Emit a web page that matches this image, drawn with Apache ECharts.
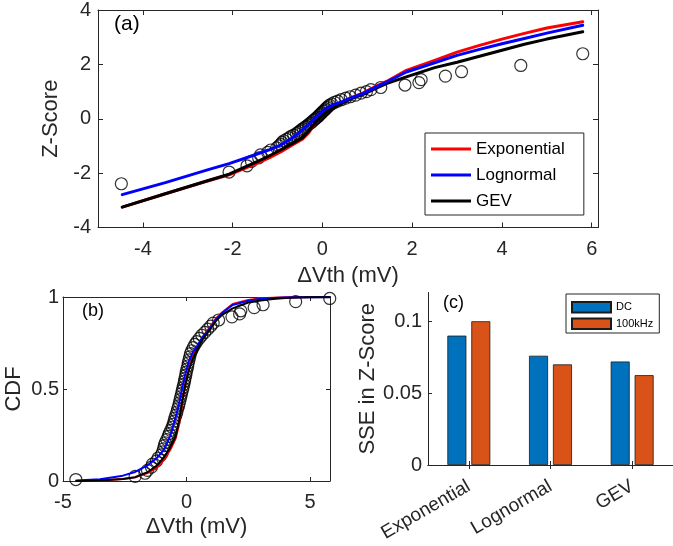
<!DOCTYPE html>
<html><head><meta charset="utf-8">
<script src="https://cdn.jsdelivr.net/npm/echarts@6/dist/echarts.min.js"></script>
<style>html,body{margin:0;padding:0;background:#fff}#c{width:673px;height:546px}</style>
</head><body><div id="c"></div>
<script>
// ---- data ----
const deltaVth = [-4.48, -2.08, -1.68, -1.58, -1.42, -1.38, -1.22, -1.15, -1.02, -0.97,
  -0.93, -0.90, -0.86, -0.80, -0.74, -0.70, -0.64, -0.58, -0.54, -0.50,
  -0.47, -0.43, -0.39, -0.36, -0.32, -0.29, -0.26, -0.23, -0.20, -0.17,
  -0.14, -0.11, -0.08, -0.06, -0.03, -0.01, 0.02, 0.05, 0.07, 0.10,
  0.13, 0.16, 0.21, 0.27, 0.34, 0.42, 0.52, 0.62, 0.74, 0.86,
  0.98, 1.08, 1.30, 1.84, 2.15, 2.20, 2.74, 3.10, 4.42, 5.80];
const zScore = [-2.39, -1.96, -1.73, -1.57, -1.44, -1.33, -1.24, -1.15, -1.07, -1.00,
  -0.94, -0.87, -0.81, -0.76, -0.70, -0.65, -0.60, -0.55, -0.50, -0.45,
  -0.41, -0.36, -0.32, -0.28, -0.23, -0.19, -0.15, -0.11, -0.06, -0.02,
  0.02, 0.06, 0.11, 0.15, 0.19, 0.23, 0.28, 0.32, 0.36, 0.41,
  0.45, 0.50, 0.55, 0.60, 0.65, 0.70, 0.76, 0.81, 0.87, 0.94,
  1.00, 1.07, 1.15, 1.24, 1.33, 1.44, 1.57, 1.73, 1.96, 2.39];
const cdfEmp = [0.008, 0.025, 0.042, 0.058, 0.075, 0.092, 0.108, 0.125, 0.142, 0.158,
  0.175, 0.192, 0.208, 0.225, 0.242, 0.258, 0.275, 0.292, 0.308, 0.325,
  0.342, 0.358, 0.375, 0.392, 0.408, 0.425, 0.442, 0.458, 0.475, 0.492,
  0.508, 0.525, 0.542, 0.558, 0.575, 0.592, 0.608, 0.625, 0.642, 0.658,
  0.675, 0.692, 0.708, 0.725, 0.742, 0.758, 0.775, 0.792, 0.808, 0.825,
  0.842, 0.858, 0.875, 0.892, 0.908, 0.925, 0.942, 0.958, 0.975, 0.992];
const fitX = [-4.46, -3.5, -2.58, -2.08, -1.58, -1.2, -0.91, -0.65, -0.44, -0.3,
  -0.17, -0.05, 0.10, 0.25, 0.44, 0.65, 0.91, 1.2, 1.44, 1.87,
  2.5, 3.0, 3.5, 4.0, 4.5, 5.0, 5.8];
const zExp  = [-3.25, -2.76, -2.30, -2.06, -1.72, -1.45, -1.20, -0.95, -0.74, -0.50,
  -0.18, 0.06, 0.28, 0.45, 0.60, 0.78, 0.95, 1.20, 1.38, 1.78,
  2.15, 2.45, 2.70, 2.93, 3.14, 3.34, 3.57];
const zLogn = [-2.79, -2.35, -1.89, -1.65, -1.37, -1.15, -0.95, -0.68, -0.40, -0.20,
  0.02, 0.20, 0.39, 0.52, 0.63, 0.78, 0.93, 1.17, 1.36, 1.72,
  2.06, 2.33, 2.55, 2.76, 2.95, 3.15, 3.44];
const zGev  = [-3.25, -2.76, -2.29, -2.04, -1.67, -1.38, -1.13, -0.90, -0.70, -0.45,
  -0.16, 0.05, 0.27, 0.42, 0.57, 0.74, 0.90, 1.13, 1.30, 1.54,
  1.88, 2.08, 2.30, 2.52, 2.74, 2.93, 3.20];
const cdfExp  = [0.0006, 0.0029, 0.0107, 0.0197, 0.0427, 0.0735, 0.115, 0.171, 0.230, 0.309,
  0.429, 0.524, 0.610, 0.674, 0.726, 0.782, 0.829, 0.885, 0.916, 0.962,
  0.984, 0.993, 0.9965, 0.998, 0.9992, 0.9996, 0.9998];
const cdfLogn = [0.0026, 0.0094, 0.029, 0.049, 0.085, 0.125, 0.171, 0.248, 0.345, 0.421,
  0.508, 0.579, 0.652, 0.698, 0.736, 0.782, 0.824, 0.879, 0.913, 0.957,
  0.980, 0.990, 0.9946, 0.9971, 0.9984, 0.9992, 0.9997];
const cdfGev  = [0.0006, 0.0029, 0.011, 0.0207, 0.0475, 0.0838, 0.129, 0.184, 0.242, 0.326,
  0.436, 0.520, 0.606, 0.663, 0.716, 0.770, 0.816, 0.871, 0.903, 0.938,
  0.970, 0.981, 0.989, 0.994, 0.997, 0.998, 0.9993];
const sseCategories = ['Exponential', 'Lognormal', 'GEV'];
const sseDC   = [0.090, 0.076, 0.072];
const sse100k = [0.100, 0.070, 0.0625];
const ticksAx = [-4, -2, 0, 2, 4, 6];
const ticksAy = [-4, -2, 0, 2, 4];
const ticksBx = [-5, 0, 5];
const ticksBy = [0, 0.5, 1];
const ticksCy = [0, 0.05, 0.1];

// ---- chart ----
const FONT = 'Liberation Sans, Arial, Helvetica, sans-serif';
const AX = '#262626';
const TICK_FS = 20, NAME_FS = 22;
const zip = (a, b) => a.map((v, i) => [v, b[i]]);

function valueAxis(o) {
  return {
    type: 'value', gridIndex: o.grid, position: o.pos, min: o.min, max: o.max,
    show: o.show !== false,
    splitLine: { show: false },
    axisLine: { show: true, onZero: false, lineStyle: { color: AX, width: 1 } },
    axisTick: { show: true, inside: true, length: o.tickLen || 5, customValues: o.ticks, lineStyle: { color: AX } },
    axisLabel: o.labels ? { show: true, customValues: o.ticks, fontSize: TICK_FS, color: AX, fontFamily: FONT, margin: o.margin } : { show: false },
    name: o.name || '', nameLocation: 'middle', nameGap: o.nameGap || 0,
    nameRotate: o.nameRotate, nameTextStyle: { fontSize: NAME_FS, color: AX, fontFamily: FONT }
  };
}

const lineSeries = (name, xi, yi, data, color, w) => ({
  name, type: 'line', xAxisIndex: xi, yAxisIndex: yi, data, showSymbol: false, symbol: 'none',
  lineStyle: { color, width: w, join: 'round', cap: 'round' }, itemStyle: { color }, silent: true, animation: false
});
const scatterSeries = (xi, yi, data, size) => ({
  type: 'scatter', xAxisIndex: xi, yAxisIndex: yi, data, symbol: 'circle', symbolSize: size,
  itemStyle: { color: 'rgba(0,0,0,0)', borderColor: '#000', borderWidth: 1.2 }, silent: true, animation: false
});

const option = {
  animation: false,
  backgroundColor: '#fff',
  textStyle: { fontFamily: FONT },
  grid: [
    { left: 98, top: 7, right: 75, bottom: 318.5 },
    { left: 63, top: 297, right: 343, bottom: 65 },
    { left: 428, top: 292.5, right: -3.5, bottom: 81 }
  ],
  xAxis: [
    valueAxis({ grid: 0, pos: 'bottom', min: -5, max: 6.14, ticks: ticksAx, labels: true, margin: 12, name: 'ΔVth (mV)', nameGap: 37 }),
    valueAxis({ grid: 0, pos: 'top', min: -5, max: 6.14, ticks: ticksAx, labels: false }),
    valueAxis({ grid: 1, pos: 'bottom', min: -5, max: 5.81, ticks: ticksBx, labels: true, margin: 11, name: 'ΔVth (mV)', nameGap: 35, tickLen: 4 }),
    valueAxis({ grid: 1, pos: 'top', min: -5, max: 5.81, ticks: ticksBx, labels: false, tickLen: 4 }),
    {
      type: 'category', gridIndex: 2, position: 'bottom', data: sseCategories,
      axisLine: { show: true, lineStyle: { color: AX } },
      axisTick: { show: true, inside: true, alignWithLabel: true, length: 4, lineStyle: { color: AX } },
      axisLabel: { rotate: 30, fontSize: 19, color: AX, fontFamily: FONT, margin: 20 }
    },
    {
      type: 'category', gridIndex: 2, position: 'top', data: sseCategories,
      axisLine: { show: true, lineStyle: { color: AX } },
      axisTick: { show: true, inside: true, alignWithLabel: true, length: 4, lineStyle: { color: AX } },
      axisLabel: { show: false }
    }
  ],
  yAxis: [
    valueAxis({ grid: 0, pos: 'left', min: -4, max: 4, ticks: ticksAy, labels: true, margin: 7, name: 'Z-Score', nameGap: 30, nameRotate: 90 }),
    valueAxis({ grid: 0, pos: 'right', min: -4, max: 4, ticks: ticksAy, labels: false }),
    valueAxis({ grid: 1, pos: 'left', min: 0, max: 1, ticks: ticksBy, labels: true, margin: 4, name: 'CDF', nameGap: 38, nameRotate: 90, tickLen: 4 }),
    valueAxis({ grid: 1, pos: 'right', min: 0, max: 1, ticks: ticksBy, labels: false, tickLen: 4 }),
    valueAxis({ grid: 2, pos: 'left', min: 0, max: 0.12, ticks: ticksCy, labels: true, margin: 6, name: 'SSE in Z-Score', nameGap: 47, nameRotate: 90, tickLen: 4 }),
    valueAxis({ grid: 2, pos: 'right', min: 0, max: 0.12, ticks: ticksCy, labels: false, show: false })
  ],
  legend: [
    {
      data: ['Exponential', 'Lognormal', 'GEV'], orient: 'vertical', left: 425, top: 133,
      icon: 'rect', itemWidth: 40, itemHeight: 3, itemGap: 6, padding: [6, 19, 4, 6],
      borderColor: AX, borderWidth: 1, backgroundColor: '#fff',
      textStyle: { fontSize: 17, color: '#000', fontFamily: FONT, lineHeight: 20 }
    },
    {
      data: ['DC', '100kHz'], orient: 'vertical', left: 566, top: 294,
      icon: 'rect', itemWidth: 39, itemHeight: 10.5, itemGap: 4, padding: [7, 6, 3, 5],
      borderColor: AX, borderWidth: 1, backgroundColor: '#fff',
      textStyle: { fontSize: 11, color: '#000', fontFamily: FONT, lineHeight: 12 }
    }
  ],
  graphic: [
    { type: 'text', left: 114, top: 14, style: { text: '(a)', fontSize: 21, fill: '#000', fontFamily: FONT } },
    { type: 'text', left: 82, top: 302, style: { text: '(b)', fontSize: 18, fill: '#000', fontFamily: FONT } },
    { type: 'text', left: 443, top: 294, style: { text: '(c)', fontSize: 18, fill: '#000', fontFamily: FONT } }
  ],
  series: [
    scatterSeries(0, 0, zip(deltaVth, zScore), 12),
    lineSeries('Exponential', 0, 0, zip(fitX, zExp), '#ff0000', 3),
    lineSeries('GEV', 0, 0, zip(fitX, zGev), '#000000', 3),
    lineSeries('Lognormal', 0, 0, zip(fitX, zLogn), '#0000ff', 3),
    scatterSeries(2, 2, zip(deltaVth, cdfEmp), 12),
    lineSeries('b-Exp', 2, 2, zip(fitX, cdfExp), '#ff0000', 2),
    lineSeries('b-Logn', 2, 2, zip(fitX, cdfLogn), '#0000ff', 2),
    lineSeries('b-Gev', 2, 2, zip(fitX, cdfGev), '#000000', 2),
    {
      name: 'DC', type: 'bar', xAxisIndex: 4, yAxisIndex: 4, data: sseDC, barWidth: 19, barGap: '26%',
      itemStyle: { color: '#0072BD', borderColor: '#1a1a1a', borderWidth: 0.8 }, silent: true
    },
    {
      name: '100kHz', type: 'bar', xAxisIndex: 4, yAxisIndex: 4, data: sse100k, barWidth: 19, barGap: '26%',
      itemStyle: { color: '#D95319', borderColor: '#1a1a1a', borderWidth: 0.8 }, silent: true
    }
  ]
};
const chart = echarts.init(document.getElementById('c'), null, { renderer: 'canvas' });
chart.setOption(option);
</script>
</body></html>
